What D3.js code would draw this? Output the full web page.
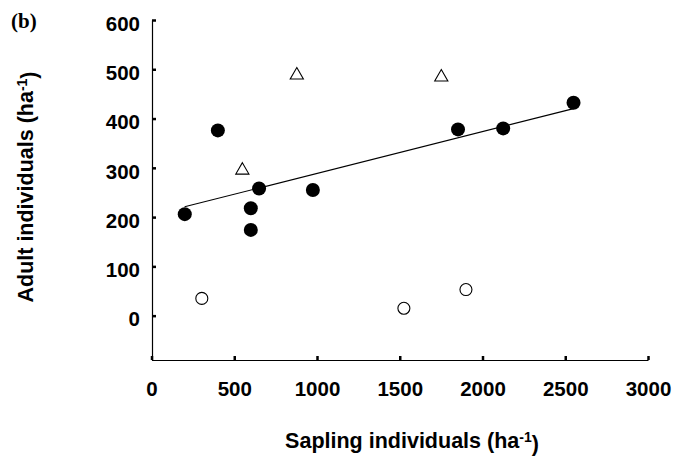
<!DOCTYPE html>
<html>
<head>
<meta charset="utf-8">
<script src="https://cdn.jsdelivr.net/npm/d3@7"></script>
<style>
body { margin: 0; background: #fff; }
svg { display: block; }
</style>
</head>
<body>
<svg width="673" height="466"></svg>
<script>
// filled circles
var filledX = [201, 401, 600, 600, 650, 975, 1852, 2125, 2550];
var filledY = [206, 376, 218, 174, 258, 255, 378, 380, 432];
// open circles
var openX = [304, 1525, 1900];
var openY = [35, 15, 53];
// open triangles
var triX = [549, 878, 1751];
var triY = [295, 488, 484];
// regression line end points
var lineX = [200, 2550];
var lineY = [221, 420];
var xTicks = [0, 500, 1000, 1500, 2000, 2500, 3000];
var yTicks = [0, 100, 200, 300, 400, 500, 600];

var svg = d3.select("svg");
var x = d3.scaleLinear().domain([0, 3000]).range([151.5, 648]);
var y = d3.scaleLinear().domain([-90, 600]).range([360, 20]);

var yAxis = svg.append("g")
    .attr("transform", "translate(152,0)")
    .call(d3.axisLeft(y).tickValues(yTicks).tickFormat(d3.format("d")).tickSize(-4).tickSizeOuter(0).tickPadding(12));
var xAxis = svg.append("g")
    .attr("transform", "translate(0,360)")
    .call(d3.axisBottom(x).tickValues(xTicks).tickFormat(d3.format("d")).tickSize(-4).tickSizeOuter(0).tickPadding(21));

[xAxis, yAxis].forEach(function (g) {
    g.select(".domain").attr("stroke", "#000").attr("stroke-width", 1.2);
    g.selectAll(".tick line").attr("stroke", "#000").attr("stroke-width", 2.5);
    g.selectAll(".tick text")
        .attr("fill", "#000")
        .style("font-family", "'Liberation Sans', Arial, sans-serif")
        .style("font-weight", "bold")
        .style("font-size", "20.5px");
});
yAxis.selectAll(".tick text").attr("dy", "0.5em");

// regression line
svg.append("path")
    .datum(d3.zip(lineX, lineY))
    .attr("d", d3.line().x(function (d) { return x(d[0]); }).y(function (d) { return y(d[1]); }))
    .attr("fill", "none")
    .attr("stroke", "#000")
    .attr("stroke-width", 1.2);

svg.append("g").selectAll("circle")
    .data(d3.zip(filledX, filledY))
    .join("circle")
    .attr("cx", function (d) { return x(d[0]); })
    .attr("cy", function (d) { return y(d[1]); })
    .attr("r", 7)
    .attr("fill", "#000");

svg.append("g").selectAll("circle")
    .data(d3.zip(openX, openY))
    .join("circle")
    .attr("cx", function (d) { return x(d[0]); })
    .attr("cy", function (d) { return y(d[1]); })
    .attr("r", 6)
    .attr("fill", "#fff")
    .attr("stroke", "#000")
    .attr("stroke-width", 1.1);

svg.append("g").selectAll("path")
    .data(d3.zip(triX, triY))
    .join("path")
    .attr("transform", function (d) { return "translate(" + x(d[0]) + "," + y(d[1]) + ")"; })
    .attr("d", d3.symbol().type(d3.symbolTriangle).size(75))
    .attr("fill", "#fff")
    .attr("stroke", "#000")
    .attr("stroke-width", 1.1);

function title(t, name) {
    t.style("font-family", "'Liberation Sans', Arial, sans-serif")
        .style("font-weight", "bold")
        .style("font-size", "21.5px")
        .attr("fill", "#000")
        .attr("text-anchor", "middle");
    t.append("tspan").text(name + " (ha");
    t.append("tspan").attr("dy", "-0.45em").style("font-size", "14px").text("-1");
    t.append("tspan").attr("dy", "0.45em").text(")");
}
title(svg.append("text").attr("x", 412).attr("y", 448), "Sapling individuals");
title(svg.append("text").attr("transform", "translate(33,187) rotate(-90)"), "Adult individuals");

svg.append("text")
    .attr("x", 11).attr("y", 28)
    .style("font-family", "'Liberation Serif', 'Times New Roman', serif")
    .style("font-weight", "bold")
    .style("font-size", "21px")
    .text("(b)");
</script>
</body>
</html>
